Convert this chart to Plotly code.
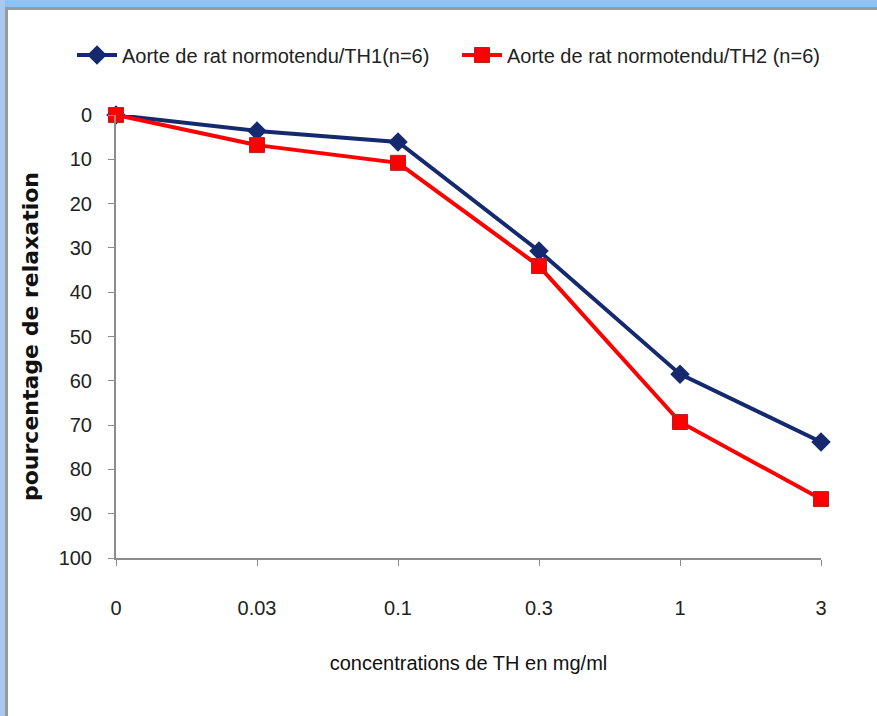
import plotly.graph_objects as go

categories = ["0", "0.03", "0.1", "0.3", "1", "3"]
th1_values = [0, 3.6, 6.1, 30.7, 58.5, 73.8]
th2_values = [0, 6.8, 10.8, 34.1, 69.3, 86.7]
y_ticks = list(range(0, 101, 10))

W, H = 877, 716
L, R, T, B = 116, 821, 115, 558  # plot area in pixels


def px(x):
    return (x - L) / (R - L)


def py(y):
    return (B - y) / (B - T)


xs = list(range(len(categories)))
fig = go.Figure()
fig.add_trace(go.Scatter(
    x=xs, y=th1_values, mode="lines+markers",
    name="Aorte de rat normotendu/TH1(n=6)",
    line=dict(color="#152A6E", width=4),
    marker=dict(symbol="diamond", size=15, color="#152A6E"),
    cliponaxis=False, legend="legend",
))
fig.add_trace(go.Scatter(
    x=xs, y=th2_values, mode="lines+markers",
    name="Aorte de rat normotendu/TH2 (n=6)",
    line=dict(color="#FF0000", width=4),
    marker=dict(symbol="square", size=15, color="#FF0000",
                line=dict(color="#B22222", width=1)),
    cliponaxis=False, legend="legend2",
))

shapes = [
    dict(type="rect", xref="paper", yref="paper", x0=px(0), x1=px(W), y0=py(7), y1=py(0),
         fillcolor="#8CC2F6", line_width=0, layer="below"),
    dict(type="rect", xref="paper", yref="paper", x0=px(0), x1=px(5), y0=py(H), y1=py(0),
         fillcolor="#A9C9F0", line_width=0, layer="below"),
    dict(type="rect", xref="paper", yref="paper", x0=px(5), x1=px(W), y0=py(10), y1=py(7),
         fillcolor="#9A9A9A", line_width=0, layer="below"),
    dict(type="rect", xref="paper", yref="paper", x0=px(5), x1=px(8), y0=py(H), y1=py(7),
         fillcolor="#9A9A9A", line_width=0, layer="below"),
]

legend_font = dict(family="Liberation Sans", size=20, color="#222222")

fig.update_layout(
    width=W, height=H,
    margin=dict(l=L, r=W - R, t=T, b=H - B, pad=0),
    paper_bgcolor="white", plot_bgcolor="white",
    shapes=shapes,
    font=dict(family="Liberation Sans", size=20, color="#222222"),
    showlegend=True,
    legend=dict(orientation="h", x=px(72), y=py(55), xanchor="left", yanchor="middle",
                font=legend_font, itemwidth=40, bgcolor="rgba(0,0,0,0)"),
    legend2=dict(orientation="h", x=px(457), y=py(55), xanchor="left", yanchor="middle",
                 font=legend_font, itemwidth=40, bgcolor="rgba(0,0,0,0)"),
    xaxis=dict(
        range=[0, len(categories) - 1],
        tickmode="array", tickvals=xs, ticktext=categories,
        showgrid=False, zeroline=False,
        showline=True, linecolor="#8C8C8C", linewidth=2,
        ticks="outside", ticklen=6, tickcolor="#8C8C8C", tickwidth=1,
        ticklabelstandoff=25,
        title=dict(text="concentrations de TH en mg/ml", standoff=38,
                   font=dict(family="Liberation Sans", size=20, color="#111111")),
    ),
    yaxis=dict(
        range=[100, 0],
        tickmode="array", tickvals=y_ticks,
        showgrid=False, zeroline=False,
        showline=True, linecolor="#8C8C8C", linewidth=2,
        ticks="outside", ticklen=6, tickcolor="#8C8C8C", tickwidth=1,
        ticklabelstandoff=12,
        title=dict(text="<b>pourcentage de relaxation</b>", standoff=14,
                   font=dict(family="DejaVu Sans", size=22, color="#111111")),
    ),
)

fig.write_html("out.html")
